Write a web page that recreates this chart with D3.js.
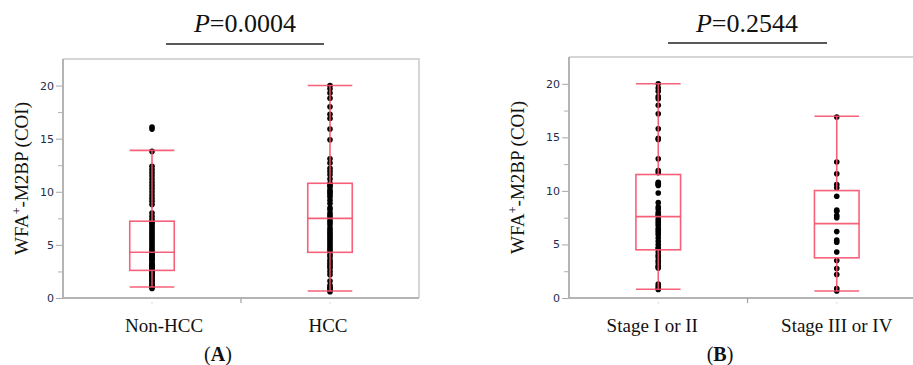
<!DOCTYPE html>
<html>
<head>
<meta charset="utf-8">
<script src="https://cdn.jsdelivr.net/npm/d3@7"></script>
<style>
  body { margin: 0; background: #fff; }
  svg { display: block; }
</style>
</head>
<body>
<svg id="chart" width="913" height="365"></svg>
<script>
// --- data ---
const categoriesA = ["Non-HCC", "HCC"];
const categoriesB = ["Stage I or II", "Stage III or IV"];
const pLabels = ["0.0004", "0.2544"];
const panelLetters = ["A", "B"];

const nonHcc = [0.9, 1.0, 1.1, 1.2, 1.3, 1.5, 1.6, 1.7, 1.8, 2.0, 2.1, 2.2, 2.3, 2.4, 2.5,
  2.7, 2.8, 2.9, 3.0, 3.1, 3.2, 3.3, 3.5, 3.6, 3.7, 3.8, 3.9, 4.0, 4.1, 4.2,
  4.4, 4.6, 4.8, 5.0, 5.2, 5.4, 5.6, 5.8, 6.0, 6.2, 6.4, 6.6, 6.8, 7.0, 7.1,
  7.4, 7.7, 8.0, 8.8, 9.1, 9.4, 9.7, 10.0, 10.3, 10.6, 10.9, 11.2, 11.5, 11.8, 12.1, 12.4,
  13.8, 15.9, 16.1];
const hcc = [0.6, 0.7, 0.9, 1.0, 1.2, 1.6, 2.2, 2.5, 2.8, 3.0, 3.2, 3.4, 3.6, 3.9, 4.1,
  4.4, 4.6, 4.8, 5.0, 5.2, 5.4, 5.6, 5.8, 6.0, 6.2, 6.4, 6.6, 6.9, 7.1, 7.3,
  7.6, 7.8, 8.0, 8.3, 8.5, 8.9, 9.2, 9.5, 9.7, 9.9, 10.0, 10.2, 10.5, 10.6, 10.8,
  11.2, 11.6, 11.9, 12.2, 12.7, 13.1, 14.9, 15.9, 16.9, 17.3, 18.0, 18.8, 19.3, 19.7, 20.0];
const stage12 = [0.8, 0.9, 1.1, 1.3, 2.8, 2.9, 3.0, 3.3, 3.5, 3.8, 4.0, 4.3,
  4.6, 4.7, 5.0, 5.3, 5.6, 5.9, 6.1, 6.3, 6.5, 6.8, 7.0, 7.2, 7.4,
  7.7, 7.8, 8.0, 8.3, 8.5, 8.9, 9.8, 10.5, 10.6, 10.7, 10.8,
  11.7, 11.9, 13.0, 14.8, 14.9, 15.8, 17.2, 18.0, 18.6, 18.8, 19.3, 19.6, 20.0];
const stage34 = [0.66, 0.88, 2.2, 2.75, 3.5, 4.3, 5.2, 5.4, 6.2, 7.5, 7.7, 8.1, 8.2,
  9.5, 10.3, 10.6, 11.6, 12.7, 16.9];

// box stats: [lower whisker, Q1, median, Q3, upper whisker]
const boxNonHcc = [1.04, 2.6, 4.3, 7.23, 13.9];
const boxHcc = [0.66, 4.3, 7.5, 10.8, 20.0];
const boxStage12 = [0.82, 4.5, 7.6, 11.53, 20.0];
const boxStage34 = [0.66, 3.75, 6.94, 10.03, 16.97];

const yTicks = [0, 5, 10, 15, 20];
const yMinorTicks = [2.5, 7.5, 12.5, 17.5];
const yMax = 22.5;

const panels = [
  { left: 63, top: 59, width: 356, height: 239, cats: categoriesA,
    values: [nonHcc, hcc], boxes: [boxNonHcc, boxHcc],
    titleX: 245, lineX: [166, 324], lineY: 44, labelX: 28, letterX: 218, catShift: [12, -2] },
  { left: 569, top: 57, width: 357, height: 241, cats: categoriesB,
    values: [stage12, stage34], boxes: [boxStage12, boxStage34],
    titleX: 747, lineX: [668, 827], lineY: 43, labelX: 524, letterX: 720, catShift: [-6, 0] }
];

const red = "#f5506a";
const svg = d3.select("#chart");
svg.append("rect").attr("width", 913).attr("height", 365).attr("fill", "#fff");

panels.forEach((p, i) => {
  const x = d3.scaleBand().domain(p.cats).range([p.left, p.left + p.width]);
  const y = d3.scaleLinear().domain([0, yMax]).range([p.top + p.height, p.top]);
  const bottom = p.top + p.height;
  const g = svg.append("g");

  // frame
  g.append("path")
    .attr("d", `M${p.left},${p.top}H${p.left + p.width}V${bottom}`)
    .attr("fill", "none").attr("stroke", "#c9c9c9").attr("stroke-width", 1.5);
  g.append("path")
    .attr("d", `M${p.left},${p.top}V${bottom}H${p.left + p.width}`)
    .attr("fill", "none").attr("stroke", "#b4b4b4").attr("stroke-width", 2);

  // y axis
  const yAxis = g.append("g").attr("transform", `translate(${p.left - 1},0)`)
    .call(d3.axisLeft(y).tickValues(yTicks).tickSize(6).tickPadding(2));
  yAxis.select(".domain").remove();
  yAxis.selectAll(".tick line").attr("stroke", "#a8a8a8");
  yAxis.selectAll(".tick text")
    .attr("fill", "#1d2b4c")
    .style("font-family", "'DejaVu Sans', Verdana, sans-serif")
    .style("font-size", "11px");
  g.append("g").attr("transform", `translate(${p.left - 1},0)`)
    .call(d3.axisLeft(y).tickValues(yMinorTicks).tickSize(4).tickFormat(""))
    .call((a) => a.select(".domain").remove())
    .selectAll(".tick line").attr("stroke", "#b0b0b0");

  // x axis marks
  g.append("line")
    .attr("x1", x(p.cats[1])).attr("x2", x(p.cats[1]))
    .attr("y1", bottom).attr("y2", bottom + 5)
    .attr("stroke", "#a0a0a0").attr("stroke-width", 1.2);
  g.selectAll(".ctick").data(p.cats).join("line")
    .attr("x1", (d) => x(d) + x.bandwidth() / 2)
    .attr("x2", (d) => x(d) + x.bandwidth() / 2)
    .attr("y1", bottom + 4).attr("y2", bottom + 6)
    .attr("stroke", "#dcdcdc");

  g.selectAll(".clabel").data(p.cats).join("text")
    .attr("x", (d, k) => x(d) + x.bandwidth() / 2 + p.catShift[k])
    .attr("y", 332)
    .attr("text-anchor", "middle")
    .style("font-family", "'Liberation Serif', 'Times New Roman', serif")
    .style("font-size", "19px")
    .attr("fill", "#111")
    .text((d) => d);

  // points
  p.cats.forEach((c, k) => {
    const cx = x(c) + x.bandwidth() / 2;
    g.append("g").selectAll("circle").data(p.values[k]).join("circle")
      .attr("cx", cx).attr("cy", (d) => y(d)).attr("r", 2.8)
      .attr("fill", "#000");
  });

  // boxes
  p.cats.forEach((c, k) => {
    const [lo, q1, med, q3, hi] = p.boxes[k];
    const cx = x(c) + x.bandwidth() / 2;
    const bw = x.bandwidth() * 0.25;
    const bg = g.append("g").attr("stroke", red).attr("stroke-width", 1.6)
      .attr("fill", "none").attr("stroke-opacity", 0.9);
    bg.append("rect")
      .attr("x", cx - bw / 2).attr("y", y(q3))
      .attr("width", bw).attr("height", y(q1) - y(q3));
    bg.append("line").attr("x1", cx - bw / 2).attr("x2", cx + bw / 2)
      .attr("y1", y(med)).attr("y2", y(med));
    bg.append("line").attr("x1", cx).attr("x2", cx).attr("y1", y(q3)).attr("y2", y(hi));
    bg.append("line").attr("x1", cx).attr("x2", cx).attr("y1", y(q1)).attr("y2", y(lo));
    bg.append("line").attr("x1", cx - bw / 2).attr("x2", cx + bw / 2)
      .attr("y1", y(hi)).attr("y2", y(hi));
    bg.append("line").attr("x1", cx - bw / 2).attr("x2", cx + bw / 2)
      .attr("y1", y(lo)).attr("y2", y(lo));
  });

  // y label
  const yl = svg.append("text")
    .attr("transform", `translate(${p.labelX},${p.top + p.height / 2}) rotate(-90)`)
    .attr("text-anchor", "middle")
    .style("font-family", "'Liberation Serif', 'Times New Roman', serif")
    .style("font-size", "19px")
    .attr("fill", "#111");
  yl.append("tspan").text("WFA");
  yl.append("tspan").attr("baseline-shift", "super").style("font-size", "12px").text("+");
  yl.append("tspan").text("-M2BP (COI)");

  // P value + bar
  const t = svg.append("text")
    .attr("x", p.titleX).attr("y", 32)
    .attr("text-anchor", "middle")
    .style("font-family", "'Liberation Serif', 'Times New Roman', serif")
    .style("font-size", "26px")
    .attr("fill", "#111");
  t.append("tspan").style("font-style", "italic").text("P");
  t.append("tspan").text("=" + pLabels[i]);
  svg.append("line")
    .attr("x1", p.lineX[0]).attr("x2", p.lineX[1])
    .attr("y1", p.lineY).attr("y2", p.lineY)
    .attr("stroke", "#222").attr("stroke-width", 1.3);

  // panel letter
  const lt = svg.append("text")
    .attr("x", p.letterX).attr("y", 361)
    .attr("text-anchor", "middle")
    .style("font-family", "'Liberation Serif', 'Times New Roman', serif")
    .style("font-size", "20px")
    .attr("fill", "#111");
  lt.append("tspan").text("(");
  lt.append("tspan").style("font-weight", "bold").text(panelLetters[i]);
  lt.append("tspan").text(")");
});
</script>
</body>
</html>
